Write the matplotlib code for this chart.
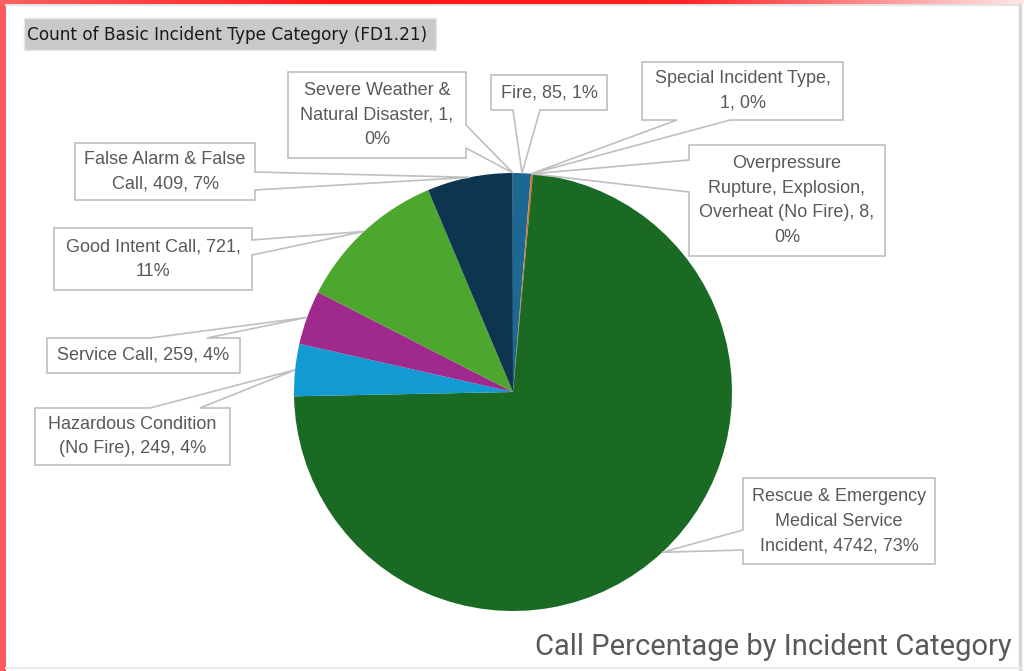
import numpy as np
import matplotlib.pyplot as plt
from matplotlib.patches import Rectangle, Polygon
from matplotlib.colors import LinearSegmentedColormap

# data, clockwise from 12 o'clock
categories = ["Fire", "Special Incident Type", "Overpressure Rupture, Explosion, Overheat (No Fire)",
              "Rescue & Emergency Medical Service Incident", "Hazardous Condition (No Fire)",
              "Service Call", "Good Intent Call", "False Alarm & False Call",
              "Severe Weather & Natural Disaster"]
counts = [85, 1, 8, 4742, 249, 259, 721, 409, 1]
colors = ["#1c6794", "#7f7f7f", "#e0701e", "#1a6a24", "#129bd2",
          "#a0298e", "#4da62e", "#0e3550", "#8c8c8c"]

# label text templates (line breaks as in the callouts)
label_fmt = ["Fire, {n}, {p}%",
             "Special Incident Type,\n{n}, {p}%",
             "Overpressure\nRupture, Explosion,\nOverheat (No Fire), {n},\n{p}%",
             "Rescue & Emergency\nMedical Service\nIncident, {n}, {p}%",
             "Hazardous Condition\n(No Fire), {n}, {p}%",
             "Service Call, {n}, {p}%",
             "Good Intent Call, {n},\n{p}%",
             "False Alarm & False\nCall, {n}, {p}%",
             "Severe Weather &\nNatural Disaster, {n},\n{p}%"]

# callout boxes in pixel coords (x0, y0, x1, y1), pointer side and base
boxes = [(491, 75, 607, 110, "bottom", 513, 540),
         (642, 62, 843, 120, "bottom", 677, 730),
         (689, 145, 885, 256, "left", 160, 192),
         (743, 478, 935, 564, "left", 530, 550),
         (35, 408, 230, 465, "top", 150, 200),
         (47, 338, 240, 373, "top", 150, 207),
         (54, 228, 252, 290, "right", 240, 255),
         (75, 143, 255, 200, "right", 172, 190),
         (288, 72, 466, 158, "right", 125, 148)]

W, H = 1024, 671
def Y(y):
    return H - y

# percentages rounded so they add up to 100 (largest remainder)
raw = 100 * np.array(counts) / sum(counts)
pcts = np.floor(raw).astype(int)
for i in np.argsort(-(raw - pcts))[:100 - pcts.sum()]:
    pcts[i] += 1

fig = plt.figure(figsize=(10.24, 6.71), dpi=100)
ax = fig.add_axes([0, 0, 1, 1])

cx, cy, r = 513, 392, 219
wedges, _ = ax.pie(counts, colors=colors, startangle=90, counterclock=False,
                   center=(cx, Y(cy)), radius=r, wedgeprops=dict(linewidth=0))

for w, n, p, fmt, b in zip(wedges, counts, pcts, label_fmt, boxes):
    th = np.deg2rad((w.theta1 + w.theta2) / 2)
    tx, ty = cx + r * np.cos(th), cy - r * np.sin(th)
    x0, y0, x1, y1, side, a, c = b
    tip = (tx, ty)
    if side == "top":
        pts = [(x0, y0), (a, y0), tip, (c, y0), (x1, y0), (x1, y1), (x0, y1)]
    elif side == "right":
        pts = [(x0, y0), (x1, y0), (x1, a), tip, (x1, c), (x1, y1), (x0, y1)]
    elif side == "bottom":
        pts = [(x0, y0), (x1, y0), (x1, y1), (c, y1), tip, (a, y1), (x0, y1)]
    else:
        pts = [(x0, y0), (x1, y0), (x1, y1), (x0, y1), (x0, c), tip, (x0, a)]
    pts = [(px, Y(py)) for px, py in pts]
    ax.add_patch(Polygon(pts, closed=True, facecolor="none", edgecolor="#bfbfbf",
                         linewidth=1.2, zorder=3))
    ax.text((x0 + x1) / 2, Y((y0 + y1) / 2), fmt.format(n=n, p=p),
            ha="center", va="center", fontsize=13, color="#595959",
            family="Liberation Sans", linespacing=1.6, zorder=4)

# header box
ax.add_patch(Rectangle((24, Y(50)), 412, 32, facecolor="#c9c9c9",
                       edgecolor="#e6e6e6", linewidth=1, zorder=2))
ax.text(27, Y(35), "Count of Basic Incident Type Category (FD1.21)", ha="left",
        va="center", fontsize=12.2, color="#1a1a1a", family="DejaVu Sans", zorder=3)

# bottom caption
ax.text(1012, Y(647), "Call Percentage by Incident Category", ha="right", va="center",
        fontsize=21, color="#595959", family=["Roboto"])

# frame decoration
ax.add_patch(Rectangle((0, 0), 6, H, facecolor="#ff5a5a", edgecolor="none", zorder=5))
cmap = LinearSegmentedColormap.from_list("topbar", ["#ff6060", "#ff1515", "#ff2020", "#ffe6e6"])
ax.imshow(np.linspace(0, 1, 256)[None, :], cmap=cmap, extent=(0, W, Y(4), H),
          aspect="auto", zorder=5)
ax.plot([6, 1020], [Y(5), Y(5)], color="#e3e3e3", lw=1.5, zorder=5)
ax.plot([1020, 1020], [Y(5), 0], color="#d6d6d6", lw=2.5, zorder=5)
ax.plot([6, 1020], [Y(668), Y(668)], color="#ececec", lw=1.5, zorder=5)

ax.set_xlim(0, W)
ax.set_ylim(0, H)
ax.axis("off")

fig.savefig("out.png", dpi=100)
